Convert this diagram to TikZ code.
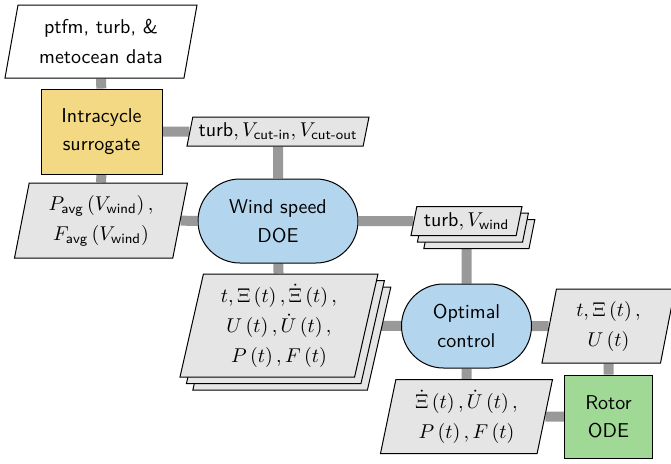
\documentclass[tikz,border=0pt]{standalone}
\usepackage{amsmath}
\usepackage{tikz}
\usetikzlibrary{shapes.geometric,shapes.misc,shadows,backgrounds}
\definecolor{doeblue}{RGB}{180,213,238}
\definecolor{surryellow}{RGB}{243,217,132}
\definecolor{odegreen}{RGB}{160,217,150}

\begin{document}
\begin{tikzpicture}[x=0.5pt,y=-0.5pt,
  every node/.style={font=\sffamily\fontsize{10}{14.5}\selectfont,align=center,inner sep=1pt,line width=0.5pt},
  data/.style={draw,trapezium,trapezium left angle=75,trapezium right angle=105,trapezium stretches body,fill=black!10,font=\sffamily\fontsize{10}{15}\selectfont},
  stack/.style={data,double copy shadow={shadow xshift=3.2pt,shadow yshift=-3.3pt}},
  driver/.style={draw,rounded rectangle,fill=doeblue},
  func/.style={draw,rectangle,fill=#1,font=\sffamily\fontsize{10}{14}\selectfont},
  link/.style={line width=5pt,black!40}]
\useasboundingbox (0,0) rectangle (671,463);

\node[data,fill=white,minimum width=96pt,minimum height=36.5pt] (ptfm) at (101,41.5) {ptfm, turb, \&\\metocean data};
\node[func=surryellow,minimum width=60.5pt,minimum height=42.5pt] (intra) at (101.5,131.5) {Intracycle\\surrogate};
\node[data,minimum width=91pt,minimum height=14.5pt] (vcut) at (278,131.5) {turb$,V_{\text{cut-in}},V_{\text{cut-out}}$};
\node[data,minimum width=86.5pt,minimum height=37.5pt] (pavg) at (101,220.5) {$P_{\text{avg}}\left(V_{\text{wind}}\right),$\\$F_{\text{avg}}\left(V_{\text{wind}}\right)$};
\node[driver,minimum width=82pt,minimum height=42pt] (doe) at (278,221) {Wind speed\\DOE};
\node[stack,minimum width=55.5pt,minimum height=14.5pt] (vwind) at (466.5,221) {turb$,V_{\text{wind}}$};
\node[stack,minimum width=99pt,minimum height=51.5pt] (hist) at (279,325.5) {$t,\Xi\left(t\right),\dot{\Xi}\left(t\right),$\\$U\left(t\right),\dot{U}\left(t\right),$\\$P\left(t\right),F\left(t\right)$};
\node[driver,minimum width=67pt,minimum height=42pt] (opt) at (466.5,326) {Optimal\\control};
\node[data,minimum width=66.5pt,minimum height=37pt] (ctrl) at (608.5,326) {$t,\Xi\left(t\right),$\\$U\left(t\right)$};
\node[data,minimum width=86pt,minimum height=37pt] (rates) at (466.5,416.5) {$\dot{\Xi}\left(t\right),\dot{U}\left(t\right),$\\$P\left(t\right),F\left(t\right)$};
\node[func=odegreen,minimum width=44pt,minimum height=41.5pt] (rotor) at (608.5,416.5) {Rotor\\ODE};

\begin{scope}[on background layer]
\draw[link] (ptfm) -- (intra);
\draw[link] (intra) -- (pavg);
\draw[link] (intra) -- (vcut);
\draw[link] (vcut) -- (doe);
\draw[link] (pavg) -- (doe);
\draw[link] (doe) -- (vwind);
\draw[link] (doe) -- (hist);
\draw[link] (vwind) -- (opt);
\draw[link] (hist) -- (opt);
\draw[link] (opt) -- (ctrl);
\draw[link] (opt) -- (rates);
\draw[link] (ctrl) -- (rotor);
\draw[link] (rates) -- (rotor);
\end{scope}
\end{tikzpicture}
\end{document}
